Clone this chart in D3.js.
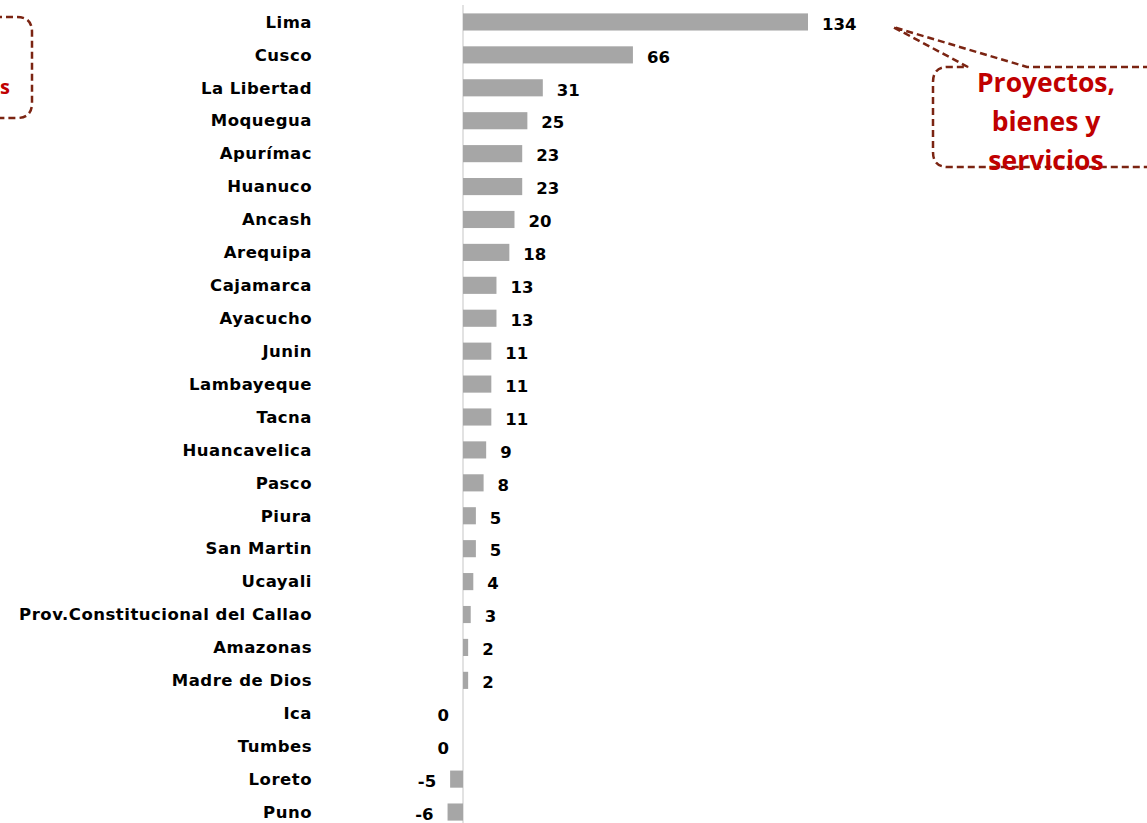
<!DOCTYPE html>
<html><head><meta charset="utf-8">
<script src="https://cdn.jsdelivr.net/npm/d3@7"></script>
<style>body{margin:0;background:#fff;}svg{display:block;}</style>
</head><body>
<svg id="chart" width="1147" height="823"></svg>
<script>
const regions = ["Lima","Cusco","La Libertad","Moquegua","Apurímac","Huanuco","Ancash","Arequipa","Cajamarca","Ayacucho","Junin","Lambayeque","Tacna","Huancavelica","Pasco","Piura","San Martin","Ucayali","Prov.Constitucional del Callao","Amazonas","Madre de Dios","Ica","Tumbes","Loreto","Puno"];
const values = [134,66,31,25,23,23,20,18,13,13,11,11,11,9,8,5,5,4,3,2,2,0,0,-5,-6];
const calloutLines = ["Proyectos,","bienes y","servicios"];

const svg = d3.select("#chart");
const font = "'DejaVu Sans', Verdana, sans-serif";
const cfont = "'Open Sans', sans-serif";
const x = d3.scaleLinear().domain([0,134]).range([463,808]);
const y = d3.scaleBand().domain(regions).range([5.5,828.5]).paddingInner(0.48).paddingOuter(0.24);

// axis line
svg.append("line").attr("x1",x(0)).attr("x2",x(0)).attr("y1",5).attr("y2",823)
  .attr("stroke","#d9d9d9").attr("stroke-width",1.5);

svg.append("g").selectAll("rect").data(values).join("rect")
  .attr("x",(d)=>x(Math.min(0,d)))
  .attr("y",(d,i)=>y(regions[i]))
  .attr("width",d=>Math.abs(x(d)-x(0)))
  .attr("height",y.bandwidth())
  .attr("fill","#a6a6a6");

// category labels
svg.append("g").selectAll("text").data(regions).join("text")
  .attr("x",312).attr("y",d=>y(d)+y.bandwidth()/2)
  .attr("dy","0.35em").attr("text-anchor","end")
  .attr("font-family",font).attr("font-weight","bold").attr("font-size",16.5)
  .attr("letter-spacing",0.5)
  .attr("fill","#000").text(d=>d);

// value labels
svg.append("g").selectAll("text").data(values).join("text")
  .attr("x",d=> d>0 ? x(d)+14 : x(d)-14)
  .attr("y",(d,i)=>y(regions[i])+y.bandwidth()/2+2)
  .attr("dy","0.35em").attr("text-anchor",d=> d>0?"start":"end")
  .attr("font-family",font).attr("font-weight","bold").attr("font-size",16.5)
  .attr("fill","#000").text(d=>d);

// callout (right)
const cStroke = "#7b2412";
const p = d3.path();
p.moveTo(1150,67); p.lineTo(1027,67); p.lineTo(893,27); p.lineTo(968,67);
p.lineTo(948,67); p.quadraticCurveTo(933,67,933,82);
p.lineTo(933,152); p.quadraticCurveTo(933,167,948,167); p.lineTo(1150,167);
svg.append("path").attr("d",p.toString()).attr("fill","none")
  .attr("stroke",cStroke).attr("stroke-width",2.5).attr("stroke-dasharray","7,4");
svg.append("g").selectAll("text").data(calloutLines).join("text")
  .attr("x",1046).attr("y",(d,i)=>92+i*39).attr("text-anchor","middle")
  .attr("font-family",cfont).attr("font-weight","bold").attr("font-size",26.5)
  .attr("fill","#c00000").text(d=>d);

// callout (left, cut off)
const p2 = d3.path();
p2.moveTo(-5,17); p2.lineTo(17,17); p2.quadraticCurveTo(32,17,32,32);
p2.lineTo(32,103); p2.quadraticCurveTo(32,118,17,118); p2.lineTo(-5,118);
svg.append("path").attr("d",p2.toString()).attr("fill","none")
  .attr("stroke",cStroke).attr("stroke-width",2.5).attr("stroke-dasharray","7,4");
svg.append("text").attr("x",0).attr("y",94).attr("text-anchor","start")
  .attr("font-family",cfont).attr("font-weight","bold").attr("font-size",20)
  .attr("fill","#c00000").text("s");
</script>
</body></html>
